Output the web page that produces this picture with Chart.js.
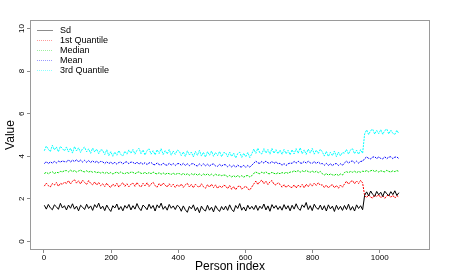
<!DOCTYPE html>
<html>
<head>
<meta charset="utf-8">
<script src="https://cdn.jsdelivr.net/npm/chart.js@4/dist/chart.umd.min.js"></script>
<style>
html,body{margin:0;padding:0;background:#fff;}
canvas{display:block;}
</style>
</head>
<body>
<canvas id="c" width="450" height="275"></canvas>
<script>
// Person index sampling (every 6th person, 1..1057)
const firstPerson = 1;
const personStep = 6;

const seriesNames = ["Sd", "1st Quantile", "Median", "Mean", "3rd Quantile"];
const xTicks = [0, 200, 400, 600, 800, 1000];
const yTicks = [0, 2, 4, 6, 8, 10];

const sdValues = [
1.70,1.52,1.74,1.58,1.49,1.72,1.63,1.51,1.79,1.57,1.68,
1.48,1.71,1.56,1.77,1.52,1.66,1.44,1.70,1.61,1.50,1.75,1.55,1.67,1.46,1.73,1.59,1.80,1.53,
1.66,1.45,1.71,1.54,1.41,1.68,1.57,1.76,1.49,1.64,1.44,1.69,1.56,1.74,1.48,
1.68,1.52,1.78,1.57,1.45,1.71,1.62,1.49,1.75,1.55,1.69,1.43,1.72,1.58,1.80,1.51,1.65,1.47,1.74,1.56,1.67,1.50,1.70,
1.62,1.42,1.67,1.49,1.37,1.65,1.53,1.72,1.44,1.60,1.35,1.66,1.50,1.43,1.70,1.47,1.61,1.39,1.68,1.52,1.41,1.64,1.48,
1.66,1.46,1.72,1.51,1.40,1.69,1.55,1.78,1.47,1.62,1.43,1.70,1.52,1.65,
1.50,1.70,1.46,1.66,1.54,1.76,1.48,1.67,1.42,1.73,1.56,1.69,1.50,
1.65,1.47,1.73,1.52,1.68,1.44,
1.70,1.52,1.77,1.56,1.46,1.72,1.60,1.83,1.50,1.68,1.45,1.75,1.58,1.51,1.71,
1.48,1.68,1.43,1.72,1.53,1.66,1.41,1.70,1.50,1.65,1.46,
1.69,1.50,1.75,1.47,1.64,1.43,1.72,1.55,1.68,1.49,
2.17,2.33,2.14,2.37,2.21,2.12,2.35,2.19,2.31,2.11,2.36,2.24,2.15,2.34,2.20,2.38,2.16,2.29
];

const q1Values = [
2.60,2.74,2.62,2.56,2.72,2.65,2.77,2.59,2.73,2.68,2.79,
2.72,2.86,2.70,2.83,2.90,2.74,2.85,2.70,2.88,2.77,2.68,2.86,2.73,2.66,2.80,2.65,2.77,2.62,
2.71,2.58,2.74,2.60,2.54,2.70,2.59,2.73,2.55,2.68,2.76,2.59,2.71,2.57,2.69,
2.74,2.59,2.77,2.63,2.56,2.73,2.61,2.76,2.58,2.70,2.78,2.62,2.55,2.72,2.60,2.75,2.64,2.56,2.71,2.58,2.69,2.54,2.67,
2.57,2.70,2.54,2.66,2.73,2.56,2.68,2.52,2.69,2.59,2.55,2.71,2.57,2.50,2.67,2.55,2.69,2.53,2.66,2.49,2.62,2.52,2.64,
2.61,2.48,2.63,2.45,2.58,2.43,2.57,2.62,2.46,2.53,2.60,2.47,2.42,2.56,
2.70,2.84,2.68,2.81,2.88,2.71,2.83,2.67,2.80,2.86,2.69,2.65,2.76,
2.68,2.55,2.67,2.53,2.65,2.56,
2.53,2.66,2.51,2.65,2.55,2.68,2.52,2.69,2.57,2.71,2.60,2.74,2.63,2.76,2.64,
2.66,2.53,2.65,2.51,2.62,2.67,2.52,2.63,2.50,2.65,2.55,
2.70,2.83,2.69,2.81,2.86,2.71,2.84,2.72,2.87,2.75,
2.16,2.06,2.19,2.08,2.04,2.18,2.10,2.20,2.05,2.15,2.03,2.14,2.19,2.07,2.17,2.04,2.15,2.09
];

const medianValues = [
3.19,3.25,3.18,3.24,3.27,3.19,3.25,3.23,3.29,3.27,3.32,
3.33,3.27,3.35,3.28,3.33,3.26,3.31,3.35,3.29,3.27,3.32,3.26,3.30,3.25,3.28,3.23,3.26,3.21,
3.25,3.19,3.26,3.18,3.24,3.17,3.22,3.26,3.19,3.27,3.20,3.18,3.25,3.19,3.26,
3.25,3.18,3.24,3.27,3.20,3.19,3.25,3.17,3.24,3.18,3.26,3.20,3.17,3.23,3.16,3.22,3.15,3.21,3.18,3.15,3.21,3.14,3.19,
3.19,3.13,3.20,3.12,3.18,3.11,3.18,3.13,3.19,3.11,3.17,3.10,3.17,3.11,3.18,3.10,3.16,3.09,3.16,3.10,3.13,3.09,3.12,
3.11,3.04,3.10,3.03,3.09,3.02,3.10,3.03,3.09,3.02,3.08,3.10,3.03,3.09,
3.20,3.26,3.21,3.18,3.26,3.20,3.27,3.19,3.18,3.25,3.20,3.17,3.23,
3.18,3.24,3.19,3.25,3.20,3.26,
3.26,3.32,3.27,3.33,3.25,3.32,3.27,3.34,3.28,3.25,3.31,3.24,3.30,3.23,3.29,
3.18,3.12,3.19,3.11,3.17,3.13,3.11,3.17,3.10,3.17,3.12,
3.24,3.28,3.23,3.29,3.25,3.30,3.23,3.29,3.25,3.30,
3.28,3.33,3.27,3.32,3.35,3.28,3.33,3.26,3.32,3.29,3.27,3.34,3.29,3.26,3.32,3.28,3.33,3.29
];

const meanValues = [
3.66,3.75,3.65,3.74,3.68,3.76,3.69,3.77,3.73,3.78,3.75,
3.74,3.83,3.73,3.82,3.75,3.84,3.74,3.82,3.73,3.81,3.72,3.80,3.71,3.79,3.70,3.77,3.69,3.76,
3.74,3.66,3.75,3.65,3.73,3.64,3.72,3.63,3.71,3.73,3.64,3.72,3.74,3.65,3.73,
3.72,3.64,3.73,3.63,3.71,3.62,3.70,3.61,3.69,3.71,3.62,3.60,3.69,3.61,3.59,3.68,3.60,3.58,3.67,3.59,3.66,3.57,3.65,
3.66,3.58,3.67,3.57,3.65,3.56,3.64,3.66,3.57,3.55,3.64,3.56,3.65,3.55,3.63,3.54,3.62,3.64,3.55,3.53,3.62,3.54,3.61,
3.60,3.51,3.59,3.50,3.58,3.49,3.59,3.51,3.50,3.58,3.48,3.57,3.49,3.58,
3.68,3.77,3.69,3.67,3.76,3.68,3.78,3.69,3.67,3.76,3.66,3.74,3.65,
3.67,3.58,3.66,3.57,3.65,3.68,
3.67,3.76,3.68,3.77,3.69,3.67,3.76,3.68,3.77,3.69,3.67,3.75,3.66,3.74,3.65,
3.66,3.58,3.67,3.57,3.65,3.56,3.64,3.66,3.57,3.65,3.58,
3.69,3.77,3.68,3.76,3.78,3.69,3.77,3.68,3.76,3.77,
3.89,3.97,3.90,3.88,3.96,3.98,3.89,3.97,3.90,3.88,3.97,3.89,3.96,3.98,3.89,3.96,3.97,3.89
];

const q3Values = [
4.26,4.48,4.33,4.22,4.52,4.30,4.44,4.21,4.47,4.36,4.25,
4.44,4.20,4.38,4.15,4.46,4.25,4.40,4.18,4.36,4.43,4.21,4.35,4.14,4.39,4.20,4.34,4.12,4.31,
4.28,4.08,4.31,4.03,4.22,4.00,4.20,4.05,4.27,4.08,4.02,4.24,4.10,4.30,4.14,
4.32,4.10,4.28,4.38,4.12,4.30,4.06,4.27,4.35,4.10,4.26,4.07,4.31,4.13,4.36,4.08,4.27,4.11,4.32,4.05,4.25,4.09,4.29,
4.24,4.03,4.21,3.99,4.26,4.06,4.20,3.97,4.23,4.04,4.28,4.01,4.19,3.96,4.22,4.05,4.25,4.00,4.18,4.03,4.23,3.98,4.17,
4.17,3.97,4.20,3.99,4.15,3.92,4.13,4.19,3.95,4.14,3.98,4.18,3.94,4.12,
4.34,4.14,4.38,4.16,4.11,4.36,4.15,4.32,4.10,4.37,4.14,4.31,4.12,
4.29,4.09,4.32,4.12,4.28,4.07,
4.31,4.11,4.36,4.14,4.40,4.12,4.30,4.09,4.34,4.15,4.37,4.10,4.29,4.13,4.33,
4.21,4.01,4.23,3.99,4.19,4.03,4.25,3.98,4.20,4.02,4.18,
4.15,4.32,4.10,4.30,4.36,4.12,4.29,4.09,4.31,4.14,
5.05,5.24,5.02,5.21,5.27,5.04,5.22,5.06,5.25,5.03,5.21,5.28,5.05,5.23,5.08,5.03,5.22,5.06
];

const seriesValues = [sdValues, q1Values, medianValues, meanValues, q3Values];
const seriesColors = ["#000000", "#ff0000", "#00dd00", "#0000ff", "#00ffff"];
const legendColors = ["#8c8c8c", "#ff9a9a", "#9ef09e", "#9a9aff", "#8cffff"];
const seriesDash = [[], [2, 1], [2, 1], [2, 1], [2, 1]];

function toPoints(vals) {
  return vals.map((v, i) => ({ x: firstPerson + i * personStep, y: v }));
}

const FONT = "'Liberation Sans', Arial, Helvetica, sans-serif";

const boxPlugin = {
  id: 'box',
  afterDraw(chart) {
    const { ctx, chartArea: a } = chart;
    ctx.save();
    ctx.strokeStyle = '#9a9a9a';
    ctx.lineWidth = 1;
    ctx.strokeRect(Math.round(a.left) + 0.5, Math.round(a.top) + 0.5,
      Math.round(a.right - a.left) - 1, Math.round(a.bottom - a.top) - 1);
    ctx.restore();
  }
};

const legendPlugin = {
  id: 'rlegend',
  afterDraw(chart) {
    const { ctx } = chart;
    ctx.save();
    ctx.font = "9px " + FONT;
    ctx.textBaseline = 'middle';
    ctx.textAlign = 'left';
    seriesNames.forEach((name, i) => {
      const y = 30 + i * 10;
      ctx.strokeStyle = legendColors[i];
      ctx.lineWidth = 1;
      ctx.setLineDash(i === 0 ? [] : [1, 1]);
      ctx.beginPath();
      ctx.moveTo(37, y + 0.5);
      ctx.lineTo(53, y + 0.5);
      ctx.stroke();
      ctx.setLineDash([]);
      ctx.fillStyle = '#000';
      ctx.fillText(name, 60, y + 0.5);
    });
    ctx.restore();
  }
};

new Chart(document.getElementById('c'), {
  type: 'line',
  data: {
    datasets: seriesNames.map((n, i) => ({
      label: n,
      data: toPoints(seriesValues[i]),
      borderColor: seriesColors[i],
      borderWidth: 1,
      borderDash: seriesDash[i],
      pointRadius: 0,
      tension: 0,
      fill: false
    }))
  },
  options: {
    responsive: false,
    devicePixelRatio: 1,
    animation: false,
    events: [],
    layout: { padding: { top: 20, right: 20, left: 0, bottom: 0 } },
    plugins: { legend: { display: false }, tooltip: { enabled: false } },
    scales: {
      x: {
        type: 'linear',
        min: -41.6,
        max: 1149.7,
        afterBuildTicks(s) { s.ticks = xTicks.map(v => ({ value: v })); },
        afterFit(s) { s.height = 25; },
        ticks: { font: { size: 8, family: FONT }, color: '#000', padding: 0, maxRotation: 0, autoSkip: false, callback: v => String(v) },
        grid: { drawOnChartArea: false, drawTicks: true, tickLength: 3, color: '#8a8a8a' },
        border: { display: false },
        title: { display: true, text: 'Person index', color: '#000', font: { size: 12, family: FONT }, padding: { top: 0, bottom: 1 } }
      },
      y: {
        min: -0.4,
        max: 10.4,
        afterBuildTicks(s) { s.ticks = yTicks.map(v => ({ value: v })); },
        afterFit(s) { s.width = 30; },
        ticks: { font: { size: 8, family: FONT }, color: '#000', padding: 1, minRotation: 90, maxRotation: 90, crossAlign: 'center', autoSkip: false, callback: v => String(v) },
        grid: { drawOnChartArea: false, drawTicks: true, tickLength: 3, color: '#8a8a8a' },
        border: { display: false },
        title: { display: true, text: 'Value', color: '#000', font: { size: 12, family: FONT }, padding: { top: 3, bottom: 0 } }
      }
    }
  },
  plugins: [boxPlugin, legendPlugin]
});
</script>
</body>
</html>
